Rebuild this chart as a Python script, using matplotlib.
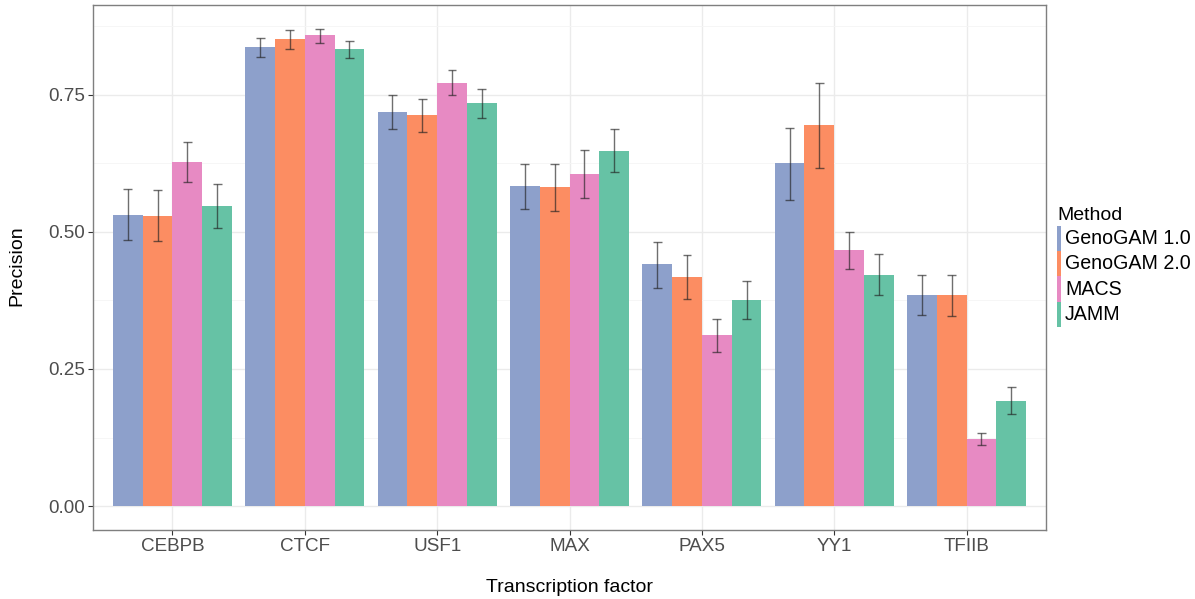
import numpy as np
import matplotlib
matplotlib.use("Agg")
import matplotlib.pyplot as plt
from matplotlib.patches import Rectangle

plt.rcParams['font.family'] = ['Liberation Sans', 'DejaVu Sans']

factors = ["CEBPB", "CTCF", "USF1", "MAX", "PAX5", "YY1", "TFIIB"]
methods = ["GenoGAM 1.0", "GenoGAM 2.0", "MACS", "JAMM"]
colors = ["#8DA0CB", "#FC8D62", "#E78AC3", "#66C2A5"]

# mean precision per transcription factor
genogam1 = [0.531, 0.837, 0.718, 0.583, 0.441, 0.626, 0.385]
genogam2 = [0.529, 0.851, 0.713, 0.581, 0.418, 0.695, 0.384]
macs     = [0.627, 0.858, 0.772, 0.606, 0.312, 0.466, 0.123]
jamm     = [0.547, 0.833, 0.734, 0.648, 0.376, 0.422, 0.191]

# lower / upper bounds of the error bars
genogam1_lo = [0.486, 0.819, 0.688, 0.542, 0.398, 0.558, 0.349]
genogam1_hi = [0.578, 0.854, 0.749, 0.624, 0.482, 0.690, 0.421]
genogam2_lo = [0.483, 0.833, 0.682, 0.538, 0.378, 0.616, 0.346]
genogam2_hi = [0.576, 0.868, 0.743, 0.623, 0.457, 0.771, 0.421]
macs_lo     = [0.591, 0.844, 0.749, 0.562, 0.281, 0.432, 0.112]
macs_hi     = [0.664, 0.870, 0.795, 0.649, 0.341, 0.500, 0.134]
jamm_lo     = [0.507, 0.817, 0.708, 0.609, 0.341, 0.385, 0.168]
jamm_hi     = [0.587, 0.847, 0.760, 0.687, 0.410, 0.459, 0.217]

means = [genogam1, genogam2, macs, jamm]
lows = [genogam1_lo, genogam2_lo, macs_lo, jamm_lo]
highs = [genogam1_hi, genogam2_hi, macs_hi, jamm_hi]

W, H = 1195, 599
fig = plt.figure(figsize=(W / 100, H / 100), dpi=100)
ax = fig.add_axes([93 / W, (H - 530) / H, (1046 - 93) / W, (530 - 5) / H])

tick_col = "#4D4D4D"
fs_tick = 13.6
fs_title = 14.0
fs_leg = 14.1

x = np.arange(1, len(factors) + 1)
dodge = 0.9
bw = dodge / len(methods)
for i, (m, c) in enumerate(zip(methods, colors)):
    pos = x - dodge / 2 + bw * (i + 0.5)
    ax.bar(pos, means[i], width=bw, color=c, edgecolor="none", zorder=2)
    lo = np.array(lows[i])
    hi = np.array(highs[i])
    cap = bw * 0.3
    ax.vlines(pos, lo, hi, color="#222222", alpha=0.65, lw=1.0, zorder=3)
    ax.hlines(lo, pos - cap / 2, pos + cap / 2, color="#222222", alpha=0.65, lw=1.0, zorder=3)
    ax.hlines(hi, pos - cap / 2, pos + cap / 2, color="#222222", alpha=0.65, lw=1.0, zorder=3)

ymax = max(max(h) for h in highs)
ax.set_ylim(-0.05 * ymax, ymax * 1.05)
ax.set_xlim(0.4, len(factors) + 0.6)

ax.set_yticks([0, 0.25, 0.5, 0.75])
ax.set_yticklabels(["0.00", "0.25", "0.50", "0.75"])
ax.set_yticks([0.125, 0.375, 0.625, 0.875], minor=True)
ax.set_xticks(x)
ax.set_xticklabels(factors)

ax.grid(True, which="major", color="#EBEBEB", lw=1.0, zorder=0)
ax.grid(True, which="minor", axis="y", color="#F5F5F5", lw=0.6, zorder=0)
ax.set_axisbelow(True)
ax.tick_params(which="minor", length=0)
ax.tick_params(which="major", length=3.5, width=0.8, color="#333333",
               labelcolor=tick_col, labelsize=fs_tick, pad=2)
for s in ax.spines.values():
    s.set_color("#7F7F7F")
    s.set_linewidth(1.0)

fig.text(570 / W, 1 - 587 / H, "Transcription factor", ha="center", va="center",
         fontsize=fs_title, color="black")
fig.text(16.5 / W, 1 - 266 / H, "Precision", ha="center", va="center",
         rotation=90, fontsize=fs_title, color="black")

# legend
fig.text(1057 / W, 1 - 215 / H, "Method", ha="left", va="center", fontsize=fs_title)
for i, (m, c) in enumerate(zip(methods, colors)):
    top = 226 + 25.2 * i
    fig.add_artist(Rectangle((1056.5 / W, 1 - (top + 25.2) / H), 4.5 / W, 25.2 / H,
                             transform=fig.transFigure, color=c, lw=0))
    fig.text(1065 / W, 1 - (top + 12.6) / H, m, ha="left", va="center", fontsize=fs_leg)

fig.savefig("out.png", dpi=100, facecolor="white")
